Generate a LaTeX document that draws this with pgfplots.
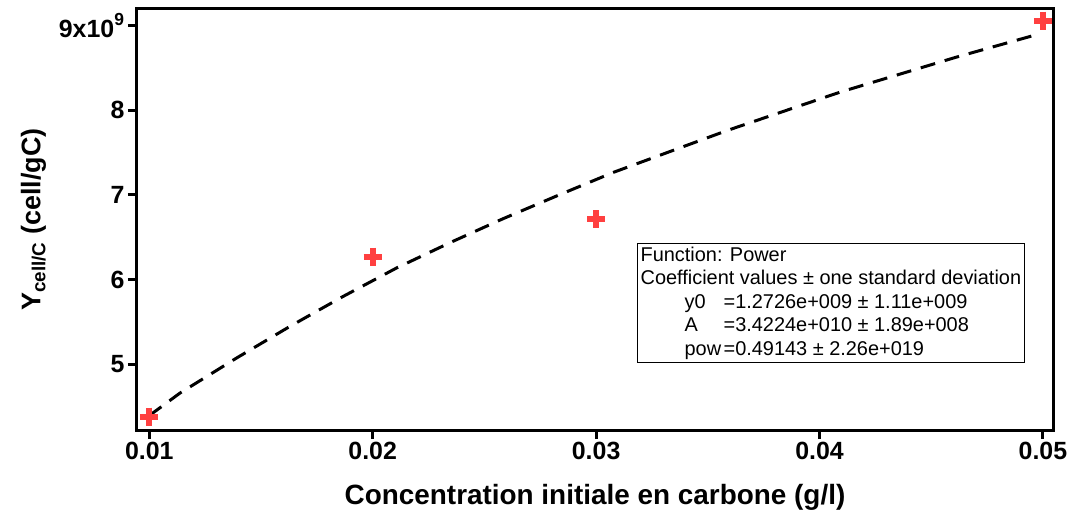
\documentclass[border=0pt]{standalone}
\usepackage{fontspec}
\setmainfont{Liberation Sans}
\usepackage{pgfplots}
\pgfplotsset{compat=1.18}
\definecolor{ptred}{RGB}{255,64,64}

\begin{document}
\begin{tikzpicture}
\useasboundingbox (-137bp,-86bp) rectangle (932bp,430bp);
\begin{axis}[
  scale only axis, width=916bp, height=421bp,
  xmin=0.00945, xmax=0.05045, ymin=4.22, ymax=9.198,
  scaled x ticks=false,
  axis line style={line width=3bp},
  xtick={0.01,0.02,0.03,0.04,0.05},
  xticklabels={0.01,0.02,0.03,0.04,0.05},
  ytick={5,6,7,8,9},
  yticklabels={5,6,7,8,9x10\raisebox{3bp}{\textsuperscript{9}}},
  tick align=outside, xtick pos=bottom, ytick pos=left,
  major tick length=9bp,
  tick style={line width=3bp, black},
  ticklabel style={font=\fontsize{25}{29}\selectfont\bfseries},
  xlabel={Concentration initiale en carbone (g/l)},
  ylabel={Y\textsubscript{cell/C} (cell/gC)},
  xlabel style={font=\fontsize{28}{32}\selectfont\bfseries, at={(axis description cs:0.5,-0.16)}, anchor=center},
  ylabel style={font=\fontsize{27}{31}\selectfont\bfseries, at={(axis description cs:-0.113,0.5)}, anchor=center},
  clip=false,
]
% fitted curve
\addplot[black, line width=3bp, dash pattern=on 15bp off 10bp] coordinates {
  (0.0100,4.39) (0.01137,4.656) (0.0139,5.07) (0.0163,5.446) (0.01868,5.80)
  (0.02107,6.136) (0.02346,6.435) (0.02585,6.72) (0.02824,6.988) (0.03077,7.266)
  (0.03585,7.76) (0.04092,8.215) (0.04614,8.63) (0.04987,8.906)
};
% measured points
\addplot[only marks, mark=+, mark size=9bp, mark options={line width=6bp, ptred}] coordinates {
  (0.01,4.378) (0.02,6.27) (0.03,6.71) (0.05,9.06)
};
\node[draw, line width=1bp, anchor=north west, align=left, inner xsep=3bp, inner ysep=3.5bp,
  font=\fontsize{20}{23.5}\selectfont] at (rel axis cs:0.546,0.444) {%
  Function: Power\\
  Coefficient values \textpm{} one standard deviation\\
  \hspace*{44bp}\makebox[39bp][l]{y0}=1.2726e+009 \textpm{} 1.11e+009\\
  \hspace*{44bp}\makebox[39bp][l]{A}=3.4224e+010 \textpm{} 1.89e+008\\
  \hspace*{44bp}\makebox[39bp][l]{pow}=0.49143 \textpm{} 2.26e+019};
\end{axis}
\end{tikzpicture}
\end{document}
